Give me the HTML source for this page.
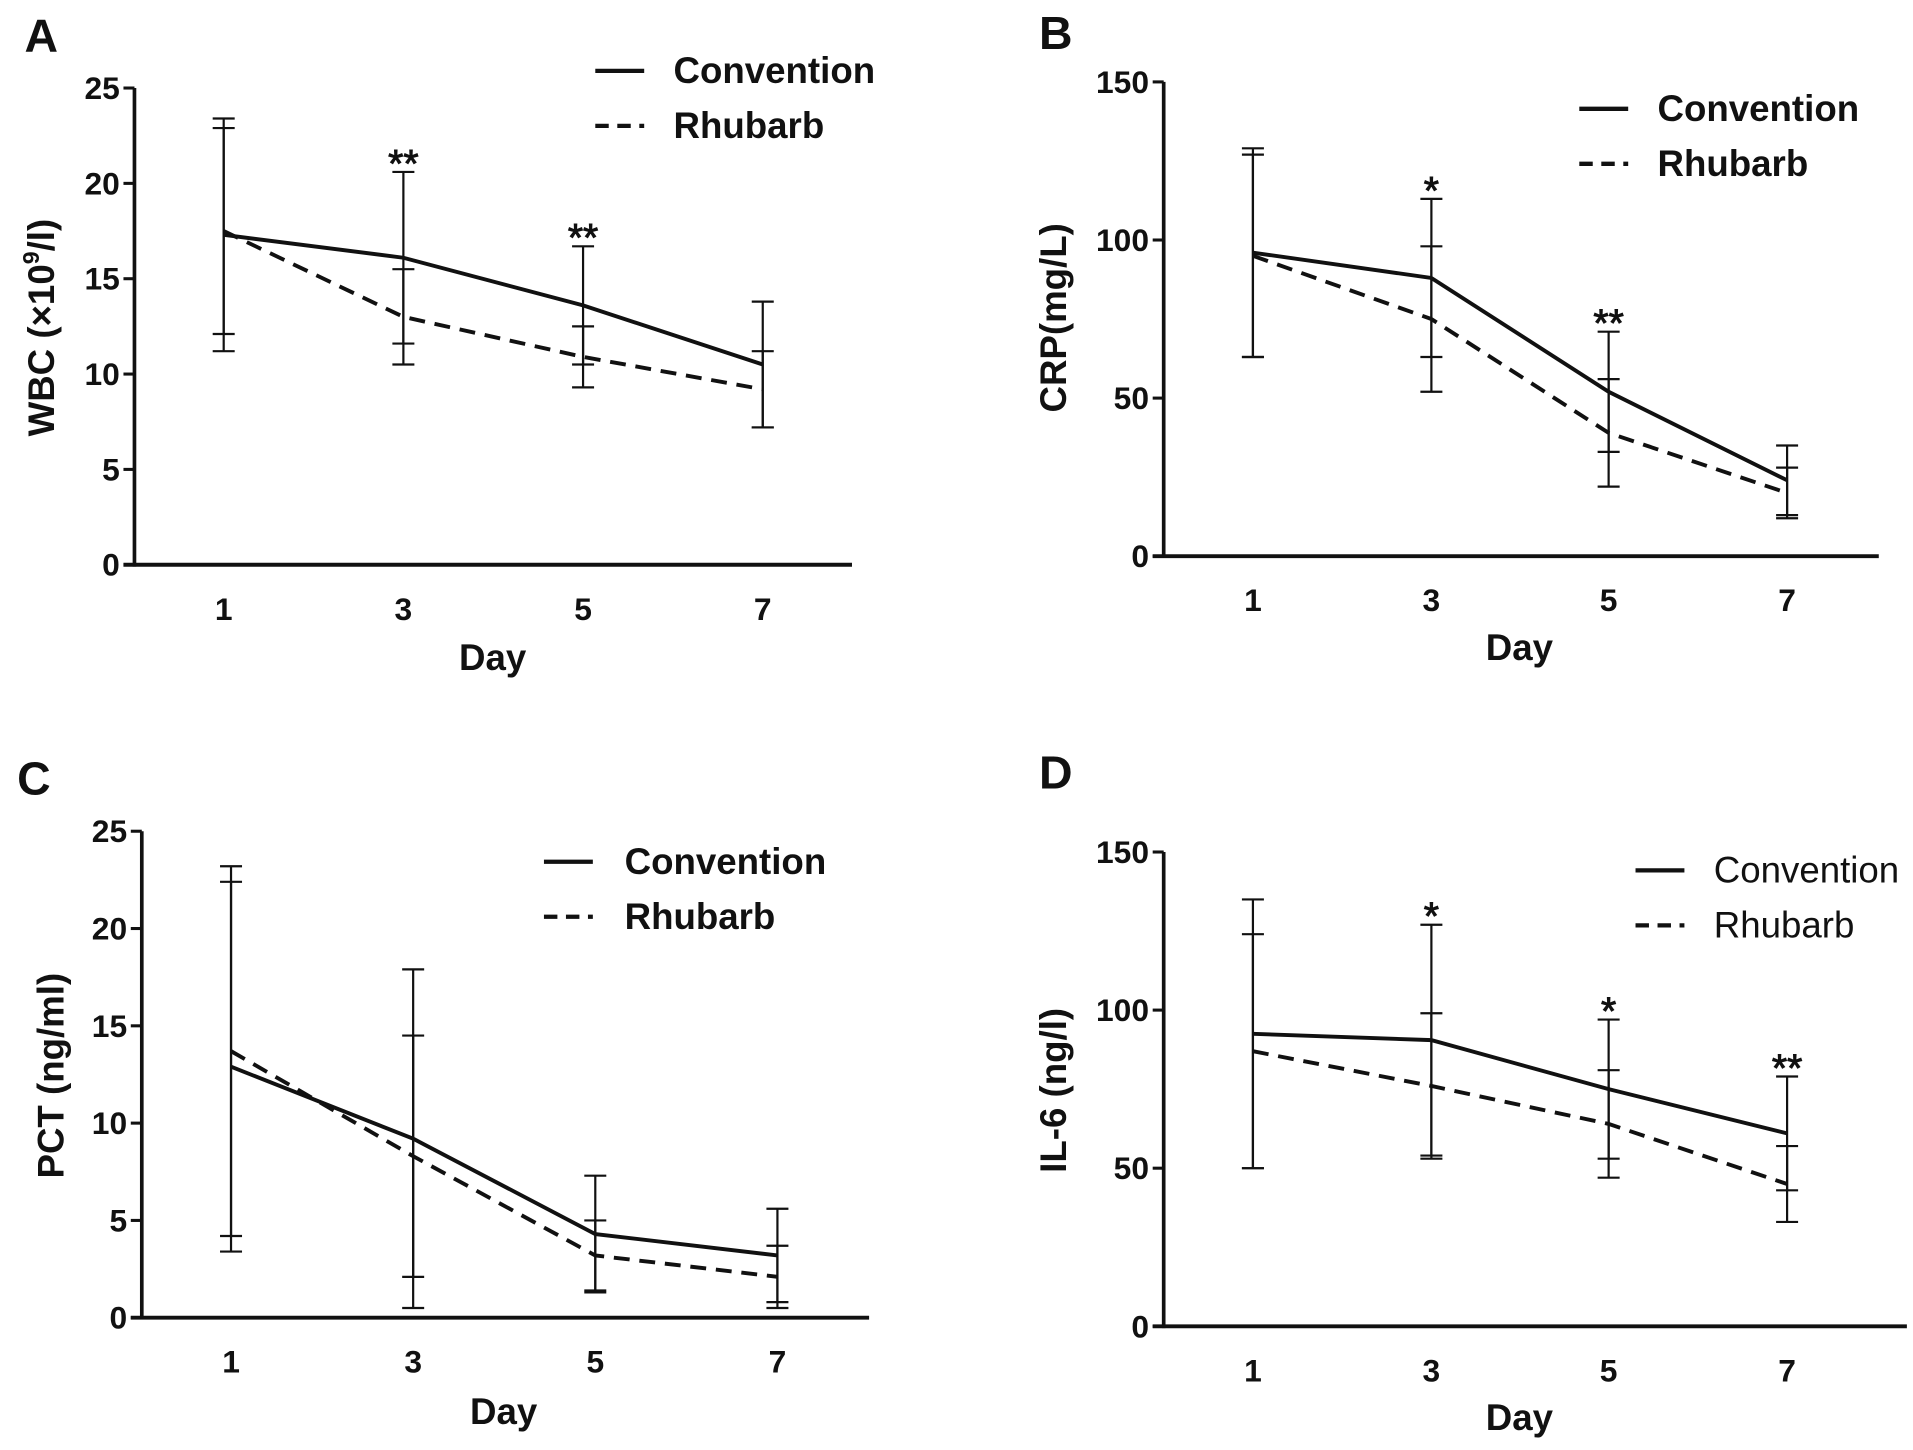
<!DOCTYPE html>
<html><head><meta charset="utf-8"><style>
html,body{margin:0;padding:0;background:#fff;}
svg{display:block;}
text{font-family:"Liberation Sans",Arial,sans-serif;fill:#111;}
</style></head><body>
<svg id="fig" width="1913" height="1450" viewBox="0 0 1565 1186.2" xmlns="http://www.w3.org/2000/svg"></svg>
<script>
const days = [1, 3, 5, 7];
const dayLabels = ["1", "3", "5", "7"];
// Panel A WBC
const wbcConv = [17.3, 16.1, 13.6, 10.5];
const wbcConvErr = [6.1, 4.5, 3.1, 3.3];
const wbcRhub = [17.5, 13.0, 10.9, 9.2];
const wbcRhubErr = [5.4, 2.5, 1.6, 2.0];
const wbcStars = ["", "**", "**", ""];
const wbcTicks = [0, 5, 10, 15, 20, 25];
// Panel B CRP
const crpConv = [96, 88, 52, 24];
const crpConvErr = [33, 25, 19, 11];
const crpRhub = [95, 75, 39, 20];
const crpRhubErr = [32, 23, 17, 8];
const crpStars = ["", "*", "**", ""];
const crpTicks = [0, 50, 100, 150];
// Panel C PCT
const pctConv = [12.9, 9.2, 4.3, 3.2];
const pctConvErr = [9.5, 8.7, 3.0, 2.4];
const pctRhub = [13.7, 8.3, 3.2, 2.1];
const pctRhubErr = [9.5, 6.2, 1.8, 1.6];
const pctStars = ["", "", "", ""];
const pctTicks = [0, 5, 10, 15, 20, 25];
// Panel D IL-6
const il6Conv = [92.5, 90.5, 75, 61];
const il6ConvErr = [42.5, 36.5, 22, 18];
const il6Rhub = [87, 76, 64, 45];
const il6RhubErr = [37, 23, 17, 12];
const il6Stars = ["", "*", "*", "**"];
const il6Ticks = [0, 50, 100, 150];

const NS = "http://www.w3.org/2000/svg";
const svg = document.getElementById("fig");
function mk(tag, attrs, parent, txt) {
  const e = document.createElementNS(NS, tag);
  for (const k in attrs) e.setAttribute(k, attrs[k]);
  if (txt !== undefined) e.textContent = txt;
  (parent || svg).appendChild(e);
  return e;
}

const panels = [
  {id:"a", letter:"A", lx:20, ly:42, ax:110, y0:462, yTop:72, xr:697, dx:[183,330,477,624], ymax:25,
   ticks:wbcTicks, conv:wbcConv, convErr:wbcConvErr, rhub:wbcRhub, rhubErr:wbcRhubErr, stars:wbcStars,
   leg:{x1:487, y:58, tx:551, bold:true}, ytitle:"WBC", ytx:44, yty:268, xty:548, xtx:403, sup:true},
  {id:"b", letter:"B", lx:850, ly:40, ax:952, y0:455, yTop:67, xr:1537, dx:[1025,1171,1316,1462], ymax:150,
   ticks:crpTicks, conv:crpConv, convErr:crpConvErr, rhub:crpRhub, rhubErr:crpRhubErr, stars:crpStars,
   leg:{x1:1292, y:89, tx:1356, bold:true}, ytitle:"CRP(mg/L)", ytx:872, yty:260, xty:540, xtx:1243},
  {id:"c", letter:"C", lx:14, ly:650, ax:116, y0:1078, yTop:680, xr:711, dx:[189,338,487,636], ymax:25,
   ticks:pctTicks, conv:pctConv, convErr:pctConvErr, rhub:pctRhub, rhubErr:pctRhubErr, stars:pctStars,
   leg:{x1:445, y:705, tx:511, bold:true}, ytitle:"PCT (ng/ml)", ytx:52, yty:880, xty:1165, xtx:412},
  {id:"d", letter:"D", lx:850, ly:645, ax:952, y0:1085, yTop:697, xr:1560, dx:[1025,1171,1316,1462], ymax:150,
   ticks:il6Ticks, conv:il6Conv, convErr:il6ConvErr, rhub:il6Rhub, rhubErr:il6RhubErr, stars:il6Stars,
   leg:{x1:1338, y:712, tx:1402, bold:false}, ytitle:"IL-6 (ng/l)", ytx:872, yty:892, xty:1170, xtx:1243}
];

panels.forEach(p => {
  const g = mk("g", {});
  
  
  const ys = v => p.y0 - (v / p.ymax) * (p.y0 - p.yTop);
  const xs = i => p.dx[i];
  const lt = mk("text", {x:p.lx, y:p.ly, "font-size":38, "font-weight":"bold"}, g, p.letter);
  
  
  const ya = mk("line", {x1:p.ax, y1:p.yTop, x2:p.ax, y2:p.y0+1.5, stroke:"#111", "stroke-width":3}, g);
  
  
  const xa = mk("line", {x1:p.ax-9, y1:p.y0, x2:p.xr, y2:p.y0, stroke:"#111", "stroke-width":3.2}, g);
  
  
  p.ticks.forEach(t => {
    mk("line", {x1:p.ax-9, y1:ys(t), x2:p.ax, y2:ys(t), stroke:"#111", "stroke-width":2.5}, g);
    const tl = mk("text", {x:p.ax-12, y:ys(t)+9, "font-size":26, "font-weight":"bold", "text-anchor":"end"}, g, String(t));
    
    
  });
  days.forEach((d, i) => {
    const tl = mk("text", {x:xs(i), y:p.y0+45, "font-size":26, "font-weight":"bold", "text-anchor":"middle"}, g, dayLabels[i]);
    
    
  });
  const xt = mk("text", {x:p.xtx, y:p.xty, "font-size":30, "font-weight":"bold", "text-anchor":"middle"}, g, "Day");
  
  
  const yt = mk("text", {x:p.ytx, y:p.yty, "font-size":30, "font-weight":"bold", "text-anchor":"middle",
    transform:`rotate(-90 ${p.ytx} ${p.yty})`}, g);
  
  
  if (p.sup) {
    mk("tspan", {}, yt, "WBC (×10");
    mk("tspan", {"font-size":19, dy:-12}, yt, "9");
    mk("tspan", {dy:12}, yt, "/l)");
  } else yt.textContent = p.ytitle;
  [[p.conv, p.convErr, "conv"], [p.rhub, p.rhubErr, "rhub"]].forEach(([vals, errs, nm]) => {
    vals.forEach((v, i) => {
      const x = xs(i), hi = ys(v + errs[i]), lo = ys(Math.max(0, v - errs[i]));
      const eb = mk("path", {d:`M${x},${hi}V${lo}M${x-9},${hi}H${x+9}M${x-9},${lo}H${x+9}`, stroke:"#111", "stroke-width":1.8, fill:"none"}, g);
      
      
    });
  });
  const cl = mk("polyline", {points:p.conv.map((v,i)=>xs(i)+","+ys(v)).join(" "), fill:"none", stroke:"#111", "stroke-width":3.2}, g);
  
  
  const rl = mk("polyline", {points:p.rhub.map((v,i)=>xs(i)+","+ys(v)).join(" "), fill:"none", stroke:"#111", "stroke-width":3.2, "stroke-dasharray":"13 8"}, g);
  
  
  p.stars.forEach((s, i) => {
    if (!s) return;
    const top = ys(Math.max(p.conv[i]+p.convErr[i], p.rhub[i]+p.rhubErr[i]));
    const st = mk("text", {x:xs(i), y:top+4, "font-size":32, "text-anchor":"middle", stroke:"#111", "stroke-width":0.8}, g, s);
    
    
  });
  const L = p.leg, fw = L.bold ? "bold" : "normal";
  const le1 = mk("g", {}, g);
  
  
  mk("line", {x1:L.x1, y1:L.y, x2:L.x1+40, y2:L.y, stroke:"#111", "stroke-width":3.5}, le1);
  mk("text", {x:L.tx, y:L.y+10, "font-size":30, "font-weight":fw}, le1, "Convention");
  const le2 = mk("g", {}, g);
  
  
  mk("line", {x1:L.x1, y1:L.y+45, x2:L.x1+40, y2:L.y+45, stroke:"#111", "stroke-width":3.5, "stroke-dasharray":"11 7"}, le2);
  mk("text", {x:L.tx, y:L.y+55, "font-size":30, "font-weight":fw}, le2, "Rhubarb");
});
</script>
</body></html>
